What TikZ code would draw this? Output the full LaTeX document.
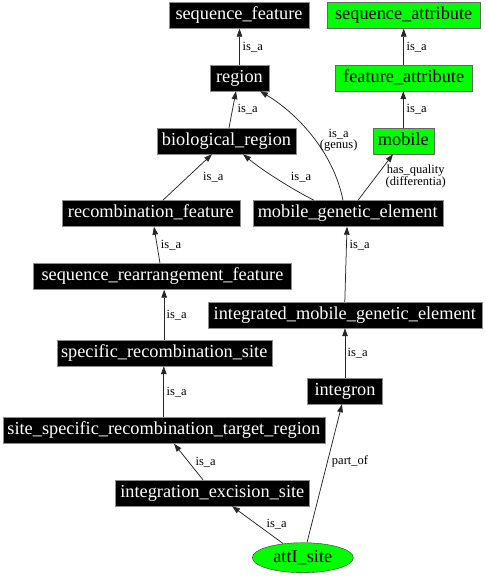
\documentclass[tikz,border=0pt]{standalone}
\usepackage{fontspec}
\setmainfont{Liberation Serif}
\usetikzlibrary{arrows.meta,shapes.geometric}
\definecolor{ggreen}{HTML}{00FF00}
\tikzset{
  box/.style={rectangle, inner sep=0pt, minimum height=26pt, text height=12.6pt, text depth=4.2pt,
    font=\fontsize{18.3}{20}\selectfont},
  blk/.style={box, draw=black!45, fill=black, text=white},
  grn/.style={box, draw=black!60, fill=ggreen, text=black},
  lbl/.style={inner sep=0pt, align=center, font=\fontsize{12.5}{11}\selectfont},
  rel/.style={draw=black!85, line width=0.75pt, -{Triangle[length=8pt,width=5.6pt]}}
}
\begin{document}
\begin{tikzpicture}[x=1pt,y=-1pt]
\useasboundingbox (0,0) rectangle (485,576);
% nodes
\node[blk, minimum width=140] (seqf) at (239,15.5) {sequence\_feature};
\node[grn, minimum width=153] (seqattr) at (403.7,15.5) {sequence\_attribute};
\node[blk, minimum width=59] (region) at (239.5,78) {region};
\node[grn, minimum width=137] (featattr) at (403.7,78) {feature\_attribute};
\node[blk, minimum width=139] (bioreg) at (226.5,141) {biological\_region};
\node[grn, minimum width=61] (mobile) at (403.3,141) {mobile};
\node[blk, minimum width=178] (recf) at (150.8,213.5) {recombination\_feature};
\node[blk, minimum width=190] (mge) at (347.7,213.5) {mobile\_genetic\_element};
\node[blk, minimum width=258] (srf) at (162.5,276.5) {sequence\_rearrangement\_feature};
\node[blk, minimum width=274] (imge) at (344.8,315) {integrated\_mobile\_genetic\_element};
\node[blk, minimum width=215] (srs) at (164.2,353) {specific\_recombination\_site};
\node[blk, minimum width=75] (integron) at (345,391) {integron};
\node[blk, minimum width=322] (sstr) at (163.8,430.5) {site\_specific\_recombination\_target\_region};
\node[blk, minimum width=194] (ies) at (212.3,493) {integration\_excision\_site};
\node[ellipse, draw=black!80, fill=ggreen, inner sep=0pt, minimum width=101, minimum height=30,
  font=\fontsize{18.3}{20}\selectfont] (attI) at (302.8,557.7) {attI\_site};
% edges
\draw[rel] (region.north) -- (region.north |- seqf.south);
\draw[rel] (featattr.north) -- (featattr.north |- seqattr.south);
\draw[rel] ([shift={(2.5,0)}]bioreg.north) -- ([shift={(-3.5,0)}]region.south);
\draw[rel] (mobile.north) -- (mobile.north |- featattr.south);
\draw[rel] ([shift={(12,0)}]recf.north) -- ([shift={(-14.5,0)}]bioreg.south);
\draw[rel] ([shift={(-33.7,0)}]mge.north) .. controls (290,188) and (262,170) .. ([shift={(16.5,0)}]bioreg.south);
\draw[rel] ([shift={(-4.7,0)}]mge.north) .. controls (333,150) and (295,112) .. ([shift={(20.5,0)}]region.south);
\draw[rel] ([shift={(10.3,0)}]mge.north) -- ([shift={(-10.3,0)}]mobile.south);
\draw[rel] ([shift={(-2.5,0)}]srf.north) -- ([shift={(3.2,0)}]recf.south);
\draw[rel] (imge.north) -- ([shift={(-0.7,0)}]mge.south);
\draw[rel] (srs.north) -- (srs.north |- srf.south);
\draw[rel] (integron.north) -- (integron.north |- imge.south);
\draw[rel] (sstr.north) -- (sstr.north |- srs.south);
\draw[rel] ([shift={(-9.3,0)}]ies.north) -- ([shift={(10.2,0)}]sstr.south);
\draw[rel] ([shift={(-19.8,-14.2)}]attI.center) -- ([shift={(19.7,0)}]ies.south);
\draw[rel] ([shift={(4.2,0)}]attI.north) -- ([shift={(-3,0)}]integron.south);
% labels
\node[lbl] (l1) at (252.8,47) {is\_a};
\node[lbl] (l2) at (416.7,47) {is\_a};
\node[lbl] (l3) at (247.7,109) {is\_a};
\node[lbl] (l4) at (416.7,109) {is\_a};
\node[lbl] (l5) at (213.3,176.7) {is\_a};
\node[lbl] (l6) at (301,176.7) {is\_a};
\node[lbl] (l7) at (338.7,140.3) {is\_a\\(genus)};
\node[lbl] (l8) at (415.8,176.7) {has\_quality\\(differentia)};
\node[lbl] (l9) at (171,245) {is\_a};
\node[lbl] (l10) at (359.7,245) {is\_a};
\node[lbl] (l11) at (176.7,315) {is\_a};
\node[lbl] (l12) at (357.7,352.7) {is\_a};
\node[lbl] (l13) at (176.7,391.7) {is\_a};
\node[lbl] (l14) at (205.7,461.7) {is\_a};
\node[lbl] (l15) at (276.7,524) {is\_a};
\node[lbl] (l16) at (350,461.7) {part\_of};
\end{tikzpicture}
\end{document}
